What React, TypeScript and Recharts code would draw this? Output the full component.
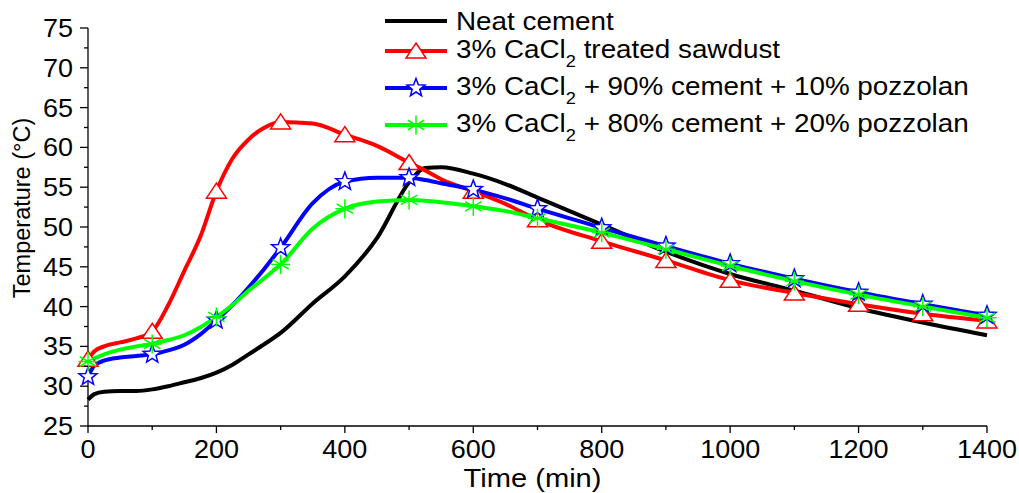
import React from 'react';
import { LineChart, Line, XAxis, YAxis, Legend, Label } from 'recharts';

const times = [0, 10, 25, 50, 75, 100, 125, 150, 175, 200, 225, 250, 275, 300, 350, 400, 450, 500, 525, 550, 600, 650, 700, 800, 900, 1000, 1100, 1200, 1300, 1400];

// temperature (°C)
const neatCement = [28.3, 29.0, 29.3, 29.4, 29.4, 29.6, 30.0, 30.5, 31.0, 31.7, 32.7, 34.0, 35.3, 36.7, 40.4, 43.8, 48.6, 55.6, 57.4, 57.5, 56.7, 55.4, 53.7, 50.3, 46.9, 44.1, 42.0, 39.8, 38.0, 36.4];
const sawdust = [33.4, 34.4, 35.0, 35.5, 36.0, 36.9, 40.2, 44.5, 48.8, 54.5, 58.6, 61.0, 62.5, 63.2, 63.0, 61.6, 60.2, 58.1, 57.1, 56.0, 54.5, 52.9, 50.9, 48.2, 45.8, 43.3, 41.7, 40.3, 39.1, 38.2];
const pozz10 = [31.2, 32.6, 33.2, 33.6, 33.8, 34.0, 34.5, 35.2, 36.5, 38.3, 40.2, 42.4, 44.8, 47.4, 53.0, 55.7, 56.2, 56.2, 55.9, 55.5, 54.7, 53.6, 52.3, 49.9, 47.6, 45.4, 43.5, 41.8, 40.3, 38.9];
const pozz20 = [33.1, 33.5, 34.0, 34.6, 35.0, 35.3, 35.8, 36.4, 37.4, 38.7, 40.2, 42.0, 43.6, 45.3, 49.8, 52.3, 53.2, 53.4, 53.3, 53.1, 52.6, 52.0, 51.1, 49.3, 47.2, 45.1, 43.2, 41.5, 40.0, 38.6];

const xTicks = [0, 100, 200, 300, 400, 500, 600, 700, 800, 900, 1000, 1100, 1200, 1300, 1400];
const yTicks = [25, 27.5, 30, 32.5, 35, 37.5, 40, 42.5, 45, 47.5, 50, 52.5, 55, 57.5, 60, 62.5, 65, 67.5, 70, 72.5, 75];

const data = times.map((t, i) => ({
  t,
  neat: neatCement[i],
  saw: sawdust[i],
  p10: pozz10[i],
  p20: pozz20[i],
}));

const FONT = "Arial, 'Liberation Sans', sans-serif";

// the source figure is a bit wider than tall, so text is stretched sideways
function WideText({ x, y, size, sx, anchor, children }: any) {
  return (
    <g transform={`translate(${x},${y}) scale(${sx},1)`}>
      <text x={0} y={0} textAnchor={anchor} fontSize={size} fontFamily={FONT} fill="#000">
        {children}
      </text>
    </g>
  );
}

function Triangle({ cx, cy }: { cx: number; cy: number }) {
  return (
    <path
      d={`M${cx},${cy - 8} L${cx + 10},${cy + 7} L${cx - 10},${cy + 7} Z`}
      fill="#fff"
      stroke="#ff0000"
      strokeWidth={1.5}
    />
  );
}

function Star({ cx, cy }: { cx: number; cy: number }) {
  const pts: string[] = [];
  for (let k = 0; k < 10; k++) {
    const r = k % 2 === 0 ? 9.5 : 4;
    const a = -Math.PI / 2 + (k * Math.PI) / 5;
    pts.push(`${cx + r * Math.cos(a)},${cy + r * Math.sin(a)}`);
  }
  return <polygon points={pts.join(' ')} fill="#fff" stroke="#0000ff" strokeWidth={1.5} />;
}

function Asterisk({ cx, cy }: { cx: number; cy: number }) {
  const r = 9.5;
  const angles = [90, 30, -30, 0];
  return (
    <g stroke="#00ff00" strokeWidth={1.5}>
      {angles.map((d) => {
        const a = (d * Math.PI) / 180;
        return (
          <line
            key={d}
            x1={cx - r * Math.cos(a)}
            y1={cy - r * Math.sin(a)}
            x2={cx + r * Math.cos(a)}
            y2={cy + r * Math.sin(a)}
          />
        );
      })}
    </g>
  );
}

// markers only at every 100 min, like the original plot
function markerDot(Shape: typeof Triangle, name: string) {
  return (props: any) => {
    const { cx, cy, payload, index } = props;
    if (payload.t % 100 !== 0 || cx == null || cy == null) return <g key={`${name}-${index}`} />;
    return (
      <g key={`${name}-${index}`}>
        <Shape cx={cx} cy={cy} />
      </g>
    );
  };
}

function YTick(props: any) {
  const { x, y, payload } = props;
  const major = payload.value % 5 === 0;
  return (
    <g>
      <line x1={x} x2={x - (major ? 8 : 4)} y1={y} y2={y} stroke="#000" strokeWidth={1.3} />
      {major && (
        <WideText x={x - 15} y={y + 9} size={25} sx={1.08} anchor="end">
          {payload.value}
        </WideText>
      )}
    </g>
  );
}

function XTick(props: any) {
  const { x, y, payload } = props;
  const major = payload.value % 200 === 0;
  return (
    <g>
      <line x1={x} x2={x} y1={y} y2={y + (major ? 7 : 4)} stroke="#000" strokeWidth={1.3} />
      {major && (
        <WideText x={x} y={y + 32} size={25} sx={1.08} anchor="middle">
          {payload.value}
        </WideText>
      )}
    </g>
  );
}

const legendRows = [
  { label: ['Neat cement'], color: '#000000', Shape: null, top: 21 },
  { label: ['3% CaCl', '2', ' treated sawdust'], color: '#ff0000', Shape: Triangle, top: 51 },
  { label: ['3% CaCl', '2', ' + 90% cement + 10% pozzolan'], color: '#0000ff', Shape: Star, top: 88 },
  { label: ['3% CaCl', '2', ' + 80% cement + 20% pozzolan'], color: '#00ff00', Shape: Asterisk, top: 125 },
];

function ChartLegend() {
  return (
    <div style={{ position: 'absolute', left: 0, top: 0, width: 1019, height: 160, fontFamily: FONT }}>
      {legendRows.map((row, i) => (
        <div key={i} style={{ position: 'absolute', left: 385, top: row.top - 15, height: 30, display: 'flex', alignItems: 'center' }}>
          <svg width={62} height={30} style={{ display: 'block' }}>
            <line x1={0} x2={62} y1={15} y2={15} stroke={row.color} strokeWidth={4} />
            {row.Shape && <row.Shape cx={31} cy={15} />}
          </svg>
          <span
            style={{
              marginLeft: 9,
              fontSize: 26,
              color: '#000',
              whiteSpace: 'nowrap',
              lineHeight: '30px',
              display: 'inline-block',
              transform: 'scaleX(1.07)',
              transformOrigin: 'left center',
            }}
          >
            {row.label[0]}
            {row.label[1] && (
              <span style={{ fontSize: 17, position: 'relative', top: 9 }}>{row.label[1]}</span>
            )}
            {row.label[2]}
          </span>
        </div>
      ))}
    </div>
  );
}

export default function App() {
  return (
    <div style={{ position: 'absolute', left: 0, top: 0, width: 1019, height: 493, background: '#fff' }}>
      <LineChart
        width={1019}
        height={493}
        data={data}
        margin={{ top: 28, right: 32, bottom: 0, left: 0 }}
      >
        <XAxis
          dataKey="t"
          type="number"
          domain={[0, 1400]}
          ticks={xTicks}
          interval={0}
          height={67}
          tickSize={0}
          tickMargin={0}
          tickLine={false}
          axisLine={{ stroke: '#000', strokeWidth: 1.3 }}
          tick={<XTick />}
        >
          <Label
            content={(p: any) => {
              const vb = p.viewBox;
              return (
                <WideText x={vb.x + vb.width / 2 - 5} y={vb.y + 61} size={26} sx={1.12} anchor="middle">
                  Time (min)
                </WideText>
              );
            }}
          />
        </XAxis>
        <YAxis
          type="number"
          domain={[25, 75]}
          ticks={yTicks}
          interval={0}
          width={88}
          tickSize={0}
          tickMargin={0}
          tickLine={false}
          axisLine={{ stroke: '#000', strokeWidth: 1.3 }}
          tick={<YTick />}
        >
          <Label
            content={(p: any) => {
              const vb = p.viewBox;
              const cx = vb.x + 30;
              const cy = vb.y + vb.height / 2 - 19;
              return (
                <text
                  x={cx}
                  y={cy}
                  transform={`rotate(-90, ${cx}, ${cy})`}
                  textAnchor="middle"
                  fontSize={23.5}
                  fontFamily={FONT}
                  fill="#000"
                >
                  Temperature (°C)
                </text>
              );
            }}
          />
        </YAxis>
        <Legend
          layout="vertical"
          align="center"
          verticalAlign="middle"
          wrapperStyle={{ position: 'absolute', left: 0, top: 0, width: 1019, height: 160 }}
          content={() => <ChartLegend />}
        />
        <Line type="monotone" dataKey="neat" stroke="#000000" strokeWidth={4} dot={false} activeDot={false} isAnimationActive={false} />
        <Line type="monotone" dataKey="saw" stroke="#ff0000" strokeWidth={4} dot={markerDot(Triangle, 'saw')} activeDot={false} isAnimationActive={false} />
        <Line type="monotone" dataKey="p10" stroke="#0000ff" strokeWidth={4} dot={markerDot(Star, 'p10')} activeDot={false} isAnimationActive={false} />
        <Line type="monotone" dataKey="p20" stroke="#00ff00" strokeWidth={4} dot={markerDot(Asterisk, 'p20')} activeDot={false} isAnimationActive={false} />
      </LineChart>
    </div>
  );
}
